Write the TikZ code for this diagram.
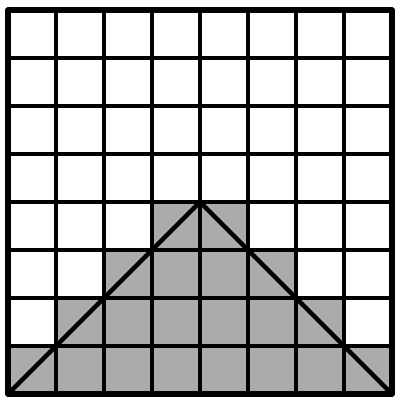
\documentclass[tikz,border=0pt]{standalone}
\begin{document}
\begin{tikzpicture}[x=48pt,y=48pt,
  shade/.style={fill=black!33},
  gridline/.style={line width=3.6pt,black},
  border/.style={line width=5.5pt,black,line join=round},
  diag/.style={line width=4.5pt,black,line cap=round,line join=round}]
\useasboundingbox (-8pt,-4pt) rectangle (388pt,394pt);
% shaded cells
\fill[shade] (0,0) rectangle (8,1);
\fill[shade] (1,1) rectangle (7,2);
\fill[shade] (2,2) rectangle (6,3);
\fill[shade] (3,3) rectangle (5,4);
% grid
\foreach \i in {1,...,7} {
  \draw[gridline] (\i,0) -- (\i,8);
  \draw[gridline] (0,\i) -- (8,\i);
}
\draw[border] (0,0) rectangle (8,8);
% triangle
\draw[diag] (0,0) -- (4,4) -- (8,0);
\end{tikzpicture}
\end{document}
